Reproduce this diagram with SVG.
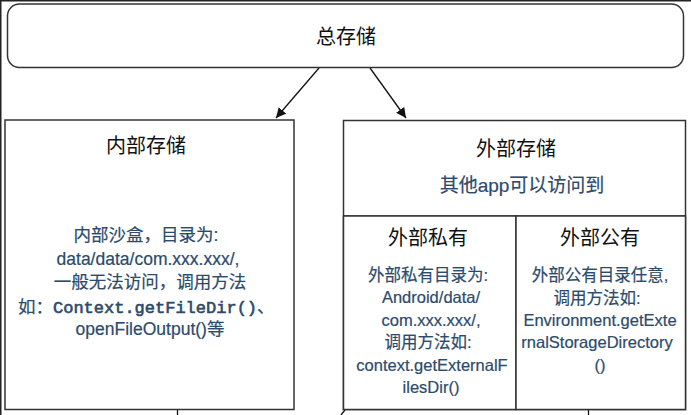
<svg xmlns="http://www.w3.org/2000/svg" width="691" height="415" viewBox="0 0 691 415">
<defs>
<marker id="ah" viewBox="0 0 10 10" refX="10" refY="5" markerWidth="10" markerHeight="10" markerUnits="userSpaceOnUse" orient="auto">
<path d="M0,0 L10,5 L0,10 z" fill="#111"/>
</marker>
<style>
.box{fill:#fff;stroke:#333;stroke-width:1.5}
.title{font-family:"Liberation Sans","Noto Sans CJK SC",sans-serif;font-size:20px;fill:#111;text-anchor:middle}
.body{font-family:"Liberation Sans","Noto Sans CJK SC",sans-serif;font-size:17.5px;fill:#2b4a6c;text-anchor:middle;stroke:#2b4a6c;stroke-width:0.2}
.small{font-size:16.5px}
.mono{font-family:"Liberation Mono","Noto Sans CJK SC",monospace;font-size:17px;stroke-width:0.6}
.conn{stroke:#111;stroke-width:1.3;fill:none}
</style>
</defs>
<rect x="0" y="0" width="691" height="415" fill="#fff"/>
<path d="M0.75,415 V0.75 H691" stroke="#222" stroke-width="1.5" fill="none"/>

<g id="connectors">
<line class="conn" x1="319" y1="68" x2="276" y2="118" marker-end="url(#ah)"/>
<line class="conn" x1="370" y1="68" x2="406" y2="118" marker-end="url(#ah)"/>
<line class="conn" x1="177.5" y1="410" x2="177.5" y2="415"/>
<line class="conn" x1="345" y1="410" x2="341" y2="415"/>
<line class="conn" x1="588.5" y1="410" x2="588.5" y2="415"/>
</g>

<g id="total">
<rect class="box" x="7.5" y="4" width="676" height="63.5" rx="12"/>
<text class="title" x="346" y="44">总存储</text>
</g>

<g id="internal">
<rect class="box" x="5" y="120" width="289" height="289.5"/>
<text class="title" x="146" y="153">内部存储</text>
<text class="body" x="146" y="241">内部沙盒，目录为:</text>
<text class="body" x="148" y="265">data/data/com.xxx.xxx/,</text>
<text class="body" x="150" y="288">一般无法访问，调用方法</text>
<text class="body" x="18" y="313" style="text-anchor:start">如：<tspan class="mono">Context.getFileDir()</tspan>、</text>
<text class="body" x="150" y="335">openFileOutput()等</text>
</g>

<g id="external">
<rect class="box" x="343.5" y="120.5" width="342" height="289"/>
<text class="title" x="516" y="156">外部存储</text>
<text class="body" x="522" y="192" style="font-size:19px">其他app可以访问到</text>
<line x1="343.5" y1="216" x2="685.5" y2="216" stroke="#333" stroke-width="1.5"/>
</g>

<g id="ext-private">
<rect class="box" x="343.5" y="216" width="172.5" height="193.5"/>
<text class="title" x="428" y="245">外部私有</text>
<text class="body small" x="428" y="281">外部私有目录为:</text>
<text class="body small" x="431" y="303">Android/data/</text>
<text class="body small" x="431" y="326">com.xxx.xxx/,</text>
<text class="body small" x="428" y="348">调用方法如:</text>
<text class="body small" x="432" y="371">context.getExternalF</text>
<text class="body small" x="431" y="393">ilesDir()</text>
</g>

<g id="ext-public">
<rect class="box" x="516" y="216" width="169.5" height="193.5"/>
<text class="title" x="600" y="245">外部公有</text>
<text class="body small" x="600" y="281">外部公有目录任意,</text>
<text class="body small" x="597" y="304">调用方法如:</text>
<text class="body small" x="600" y="326">Environment.getExte</text>
<text class="body small" x="597" y="348">rnalStorageDirectory</text>
<text class="body small" x="600" y="371">()</text>
</g>
</svg>
